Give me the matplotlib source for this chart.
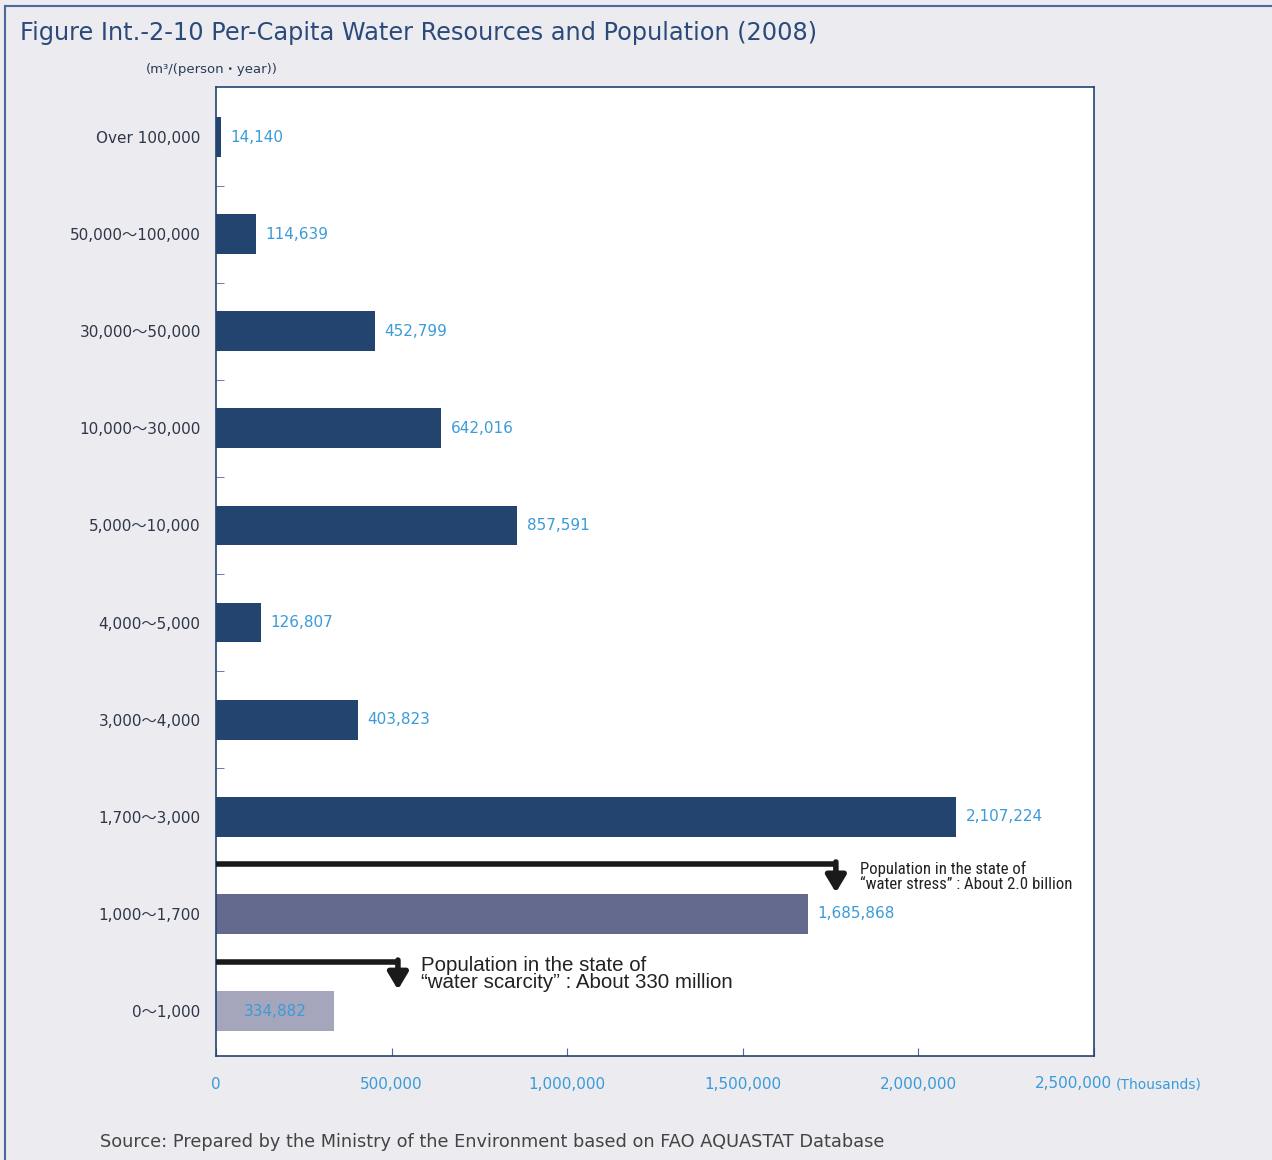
import matplotlib
matplotlib.use("Agg")
import matplotlib.pyplot as plt
from matplotlib.lines import Line2D
from matplotlib import font_manager

# Per-capita water resources classes (m3 per person per year) and population (thousands)
categories = ["Over 100,000", "50,000～100,000", "30,000～50,000", "10,000～30,000",
              "5,000～10,000", "4,000～5,000", "3,000～4,000", "1,700～3,000",
              "1,000～1,700", "0～1,000"]
population = [14140, 114639, 452799, 642016, 857591, 126807, 403823, 2107224,
              1685868, 334882]
value_labels = ["14,140", "114,639", "452,799", "642,016", "857,591", "126,807",
                "403,823", "2,107,224", "1,685,868", "334,882"]
bar_colors = ["#23446f"] * 8 + ["#636a8e", "#a5a6bc"]
x_ticks = [0, 500000, 1000000, 1500000, 2000000, 2500000]
x_tick_labels = ["0", "500,000", "1,000,000", "1,500,000", "2,000,000", "2,500,000"]

BG = "#ebebf0"
NAVY = "#23446f"
BLUE = "#3a9bd8"

plt.rcParams['font.family'] = ['DejaVu Sans', 'Noto Sans CJK JP']

# pick a narrow face for the annotation if one is available
names = {f.name for f in font_manager.fontManager.ttflist}
narrow = None
for cand in ["Liberation Sans Narrow", "Roboto Condensed", "Open Sans Condensed"]:
    if cand in names:
        narrow = cand
        break

W, H = 1272, 1160
fig = plt.figure(figsize=(W / 100, H / 100), dpi=100, facecolor=BG)

# outer frame: top and left edges
fig.add_artist(Line2D([5 / W, 5 / W], [0, 1 - 6 / H], transform=fig.transFigure,
                      color="#4a6a9a", lw=1.5))
fig.add_artist(Line2D([5 / W, 1], [1 - 6 / H, 1 - 6 / H], transform=fig.transFigure,
                      color="#4a6a9a", lw=1.5))

left, right, top, bottom = 216, 1094, 87, 1056
ax = fig.add_axes([left / W, 1 - bottom / H, (right - left) / W, (bottom - top) / H])
ax.set_facecolor("white")

ypos = list(range(len(categories)))
ax.barh(ypos, population, height=0.41, color=bar_colors, zorder=2)
ax.set_xlim(0, 2500000)
ax.set_ylim(9.463, -0.515)

for i, (v, lab) in enumerate(zip(population, value_labels)):
    if i == len(categories) - 1:
        ax.text(v / 2, i, lab, color=BLUE, fontsize=11, va="center", ha="center", zorder=3)
    else:
        ax.text(v + 27000, i, lab, color=BLUE, fontsize=11, va="center", ha="left", zorder=3)

for s in ax.spines.values():
    s.set_color(NAVY)
    s.set_linewidth(1.2)

ax.set_yticks(ypos)
ax.set_yticklabels(categories, fontsize=11, color="#2e3648")
ax.tick_params(axis="y", length=0, pad=11)
ax.set_yticks([i + 0.5 for i in range(len(categories) - 1)], minor=True)
ax.tick_params(axis="y", which="minor", length=6, direction="in", color="#4a6a9a")

ax.set_xticks(x_ticks)
ax.set_xticklabels(x_tick_labels[:-1] + [""], fontsize=11, color=BLUE)
ax.tick_params(axis="x", length=6, direction="in", color="#4a6a9a", pad=15)
fig.text(1035 / W, 1 - 1084 / H, x_tick_labels[-1], fontsize=11, color=BLUE,
         ha="left", va="center")
fig.text(1116 / W, 1 - 1084 / H, "(Thousands)", fontsize=10, color=BLUE,
         ha="left", va="center")

# threshold arrows
def bracket_arrow(y_line, x_end, y_tip):
    ax.plot([0, x_end], [y_line, y_line], color="#1a1a1a", lw=4, solid_capstyle="butt",
            clip_on=False, zorder=4)
    ax.annotate("", xy=(x_end, y_tip), xytext=(x_end, y_line - 0.02),
                arrowprops=dict(arrowstyle="-|>,head_length=1.0,head_width=0.6",
                                color="#1a1a1a", lw=4, shrinkA=0, shrinkB=0), zorder=4)

bracket_arrow(7.485, 1765000, 7.78)
bracket_arrow(8.495, 518000, 8.78)

if narrow:
    ax.text(1835000, 7.61, "Population in the state of\n“water stress” : About 2.0 billion",
            fontsize=12.1, family=narrow, color="#222222",
            va="center", ha="left", linespacing=1.0, zorder=4)
else:
    ax.text(1835000, 7.61, "Population in the state of\n“water stress” : About 2.0 billion",
            fontsize=9.5, color="#222222",
            va="center", ha="left", linespacing=1.1, zorder=4)
ax.text(585000, 8.62, "Population in the state of\n“water scarcity” : About 330 million",
        fontsize=14.8, color="#222222", va="center", ha="left", linespacing=0.9,
        zorder=4, family="Liberation Sans")

fig.text(20 / W, 1 - 33 / H, "Figure Int.-2-10 Per-Capita Water Resources and Population (2008)",
         fontsize=17.3, color="#2b4a7a", ha="left", va="center")
fig.text(146 / W, 1 - 70 / H, "(m³/(person・year))", fontsize=9.5, color="#2a3a5a",
         ha="left", va="center")
fig.text(100 / W, 1 - 1142 / H,
         "Source: Prepared by the Ministry of the Environment based on FAO AQUASTAT Database",
         fontsize=12.8, color="#444444", ha="left", va="center")

fig.savefig("out.png", dpi=100, facecolor=BG)
